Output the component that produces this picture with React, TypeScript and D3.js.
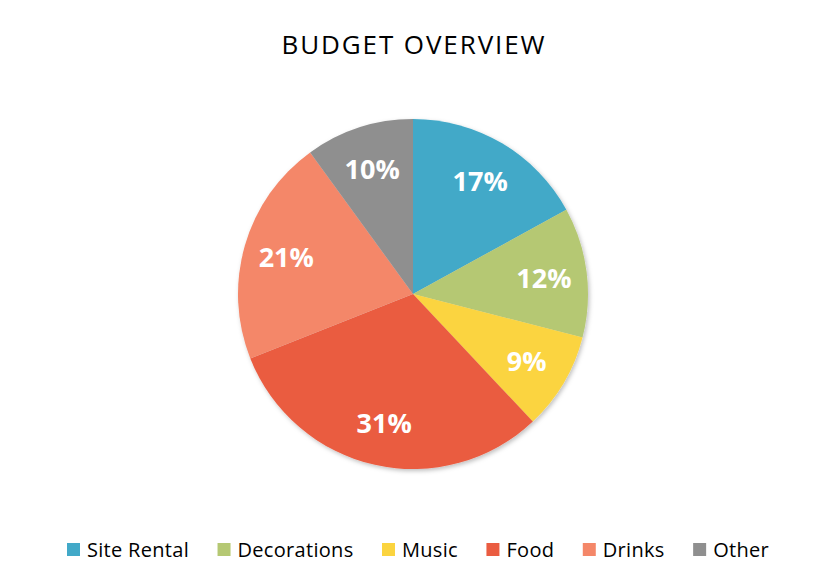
import React, { useEffect, useRef } from "react";
import * as d3 from "d3";

const categories = ["Site Rental", "Decorations", "Music", "Food", "Drinks", "Other"];
const values = [17, 12, 9, 31, 21, 10];
const colors = ["#42A9C8", "#B5C873", "#FBD43F", "#EA5C41", "#F48769", "#8F8F8F"];

export default function App() {
  const svgRef = useRef<SVGSVGElement>(null);

  useEffect(() => {
    const width = 826;
    const height = 588;
    const svg = d3.select(svgRef.current).attr("width", width).attr("height", height);
    svg.selectAll("*").remove();

    const font = "'Open Sans', sans-serif";

    svg
      .append("text")
      .attr("x", 414)
      .attr("y", 54)
      .attr("text-anchor", "middle")
      .style("font-family", font)
      .style("font-size", "26px")
      .style("letter-spacing", "1.9px")
      .style("fill", "#000")
      .text("BUDGET OVERVIEW");

    const defs = svg.append("defs");
    const filter = defs.append("filter").attr("id", "shadow").attr("x", "-20%").attr("y", "-20%").attr("width", "140%").attr("height", "140%");
    filter.append("feDropShadow").attr("dx", 1.5).attr("dy", 2).attr("stdDeviation", 2).attr("flood-color", "#000").attr("flood-opacity", 0.25);

    const cx = 413;
    const cy = 294;
    const radius = 175;

    const data = categories.map((c, i) => ({ label: c, value: values[i], color: colors[i] }));
    const pie = d3.pie<any>().value((d) => d.value).sort(null);
    const arc = d3.arc<any>().innerRadius(0).outerRadius(radius);
    const labelArc = d3.arc<any>().innerRadius(132).outerRadius(132);

    const g = svg.append("g").attr("transform", `translate(${cx},${cy})`);
    const slices = g.append("g").attr("filter", "url(#shadow)");
    slices
      .selectAll("path")
      .data(pie(data))
      .enter()
      .append("path")
      .attr("d", arc)
      .attr("fill", (d) => d.data.color);

    const total = d3.sum(values);
    g.selectAll(".lbl")
      .data(pie(data))
      .enter()
      .append("text")
      .attr("class", "lbl")
      .attr("transform", (d) => `translate(${labelArc.centroid(d)})`)
      .attr("text-anchor", "middle")
      .attr("dy", "0.38em")
      .style("font-family", font)
      .style("font-weight", "bold")
      .style("font-size", "27px")
      .style("fill", "#fff")
      .text((d) => `${Math.round((d.data.value / total) * 100)}%`);

    // legend
    const legend = svg.append("g");
    const items = legend
      .selectAll("g")
      .data(data)
      .enter()
      .append("g");
    items
      .append("rect")
      .attr("width", 13)
      .attr("height", 13)
      .attr("y", -6.5)
      .attr("fill", (d) => d.color);
    const texts = items
      .append("text")
      .attr("x", 20)
      .attr("dy", "0.36em")
      .style("font-family", font)
      .style("font-size", "20px")
      .style("letter-spacing", "0.3px")
      .style("fill", "#000")
      .text((d) => d.label);

    const widths: number[] = [];
    texts.each(function () {
      widths.push((this as SVGTextElement).getComputedTextLength());
    });
    const itemW = widths.map((w) => 20 + w);
    const span = 702;
    const gap = (span - d3.sum(itemW)) / (itemW.length - 1);
    let x = 67;
    items.attr("transform", (_, i) => {
      const t = `translate(${x},${549.5})`;
      x += itemW[i] + gap;
      return t;
    });
  }, []);

  return <svg ref={svgRef} style={{ display: "block", position: "absolute", left: 0, top: 0 }} />;
}
